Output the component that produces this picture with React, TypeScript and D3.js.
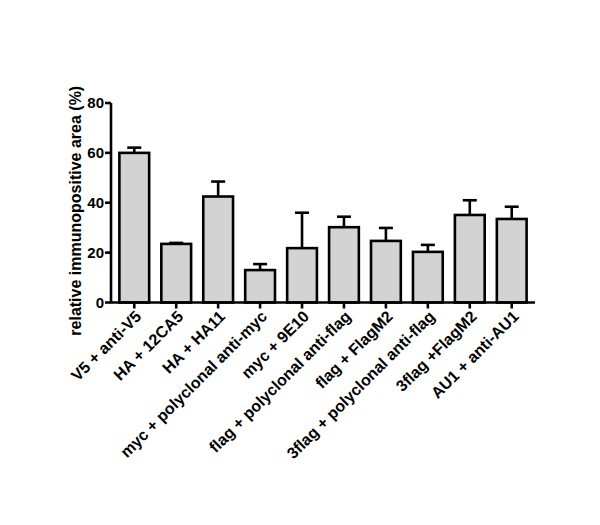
import React from "react";
import * as d3 from "d3";

const categories = [
  "V5 + anti-V5",
  "HA + 12CA5",
  "HA + HA11",
  "myc + polyclonal anti-myc",
  "myc + 9E10",
  "flag + polyclonal anti-flag",
  "flag + FlagM2",
  "3flag + polyclonal anti-flag",
  "3flag +FlagM2",
  "AU1 + anti-AU1",
];
const means = [60.0, 23.5, 42.5, 13.0, 21.8, 30.2, 24.7, 20.3, 35.1, 33.5];
const errors = [2.1, 0.4, 6.0, 2.4, 14.2, 4.2, 5.2, 2.8, 5.9, 4.9];
const yTicks = [0, 20, 40, 60, 80];
const yLabel = "relative immunopositive area (%)";

export default function App() {
  const W = 600, H = 525;
  const x0 = 111, x1 = 535, yTop = 103, yBot = 302.5;
  const x = d3.scaleBand().domain(categories).range([x0, x1]).paddingInner(0.29).paddingOuter(0.2);
  const y = d3.scaleLinear().domain([0, 80]).range([yBot, yTop]);
  const font = "'Liberation Sans', Arial, sans-serif";
  const sw = 2.6;
  const cap = 7;
  return (
    <svg width={W} height={H} style={{ position: "absolute", left: 0, top: 0, background: "#fff" }}>
      <rect width={W} height={H} fill="#fff" />
      {categories.map((c, i) => {
        const bx = x(c)!;
        const bw = x.bandwidth();
        const cx = bx + bw / 2;
        const top = y(means[i]);
        const et = y(means[i] + errors[i]);
        return (
          <g key={c}>
            <line x1={cx} x2={cx} y1={top} y2={et} stroke="#000" strokeWidth={sw} />
            <line x1={cx - cap} x2={cx + cap} y1={et} y2={et} stroke="#000" strokeWidth={sw} />
            <rect x={bx} y={top} width={bw} height={yBot - top} fill="#d3d3d3" stroke="#000" strokeWidth={sw} />
          </g>
        );
      })}
      <line x1={x0} x2={x0} y1={yTop} y2={yBot} stroke="#000" strokeWidth={sw} />
      <line x1={x0} x2={x1} y1={yBot} y2={yBot} stroke="#000" strokeWidth={sw} />
      {yTicks.map((t) => (
        <g key={t}>
          <line x1={x0 - 6} x2={x0} y1={y(t)} y2={y(t)} stroke="#000" strokeWidth={sw} />
          <text x={x0 - 7} y={y(t)} dy="0.36em" textAnchor="end" fontFamily={font} fontWeight="bold" fontSize={15} fill="#000">
            {t}
          </text>
        </g>
      ))}
      {categories.map((c) => {
        const cx = x(c)! + x.bandwidth() / 2;
        return (
          <g key={c}>
            <line x1={cx} x2={cx} y1={yBot} y2={yBot + 6} stroke="#000" strokeWidth={sw} />
            <text
              transform={`translate(${cx + 4},${yBot + 11}) rotate(-45)`}
              textAnchor="end"
              dy="0.35em"
              fontFamily={font}
              fontWeight="bold"
              fontSize={16}
              fill="#000"
            >
              {c}
            </text>
          </g>
        );
      })}
      <text
        transform={`translate(81,${(yTop + yBot) / 2 + 8}) rotate(-90)`}
        textAnchor="middle"
        fontFamily={font}
        fontWeight="bold"
        fontSize={16}
        fill="#000"
      >
        {yLabel}
      </text>
    </svg>
  );
}
